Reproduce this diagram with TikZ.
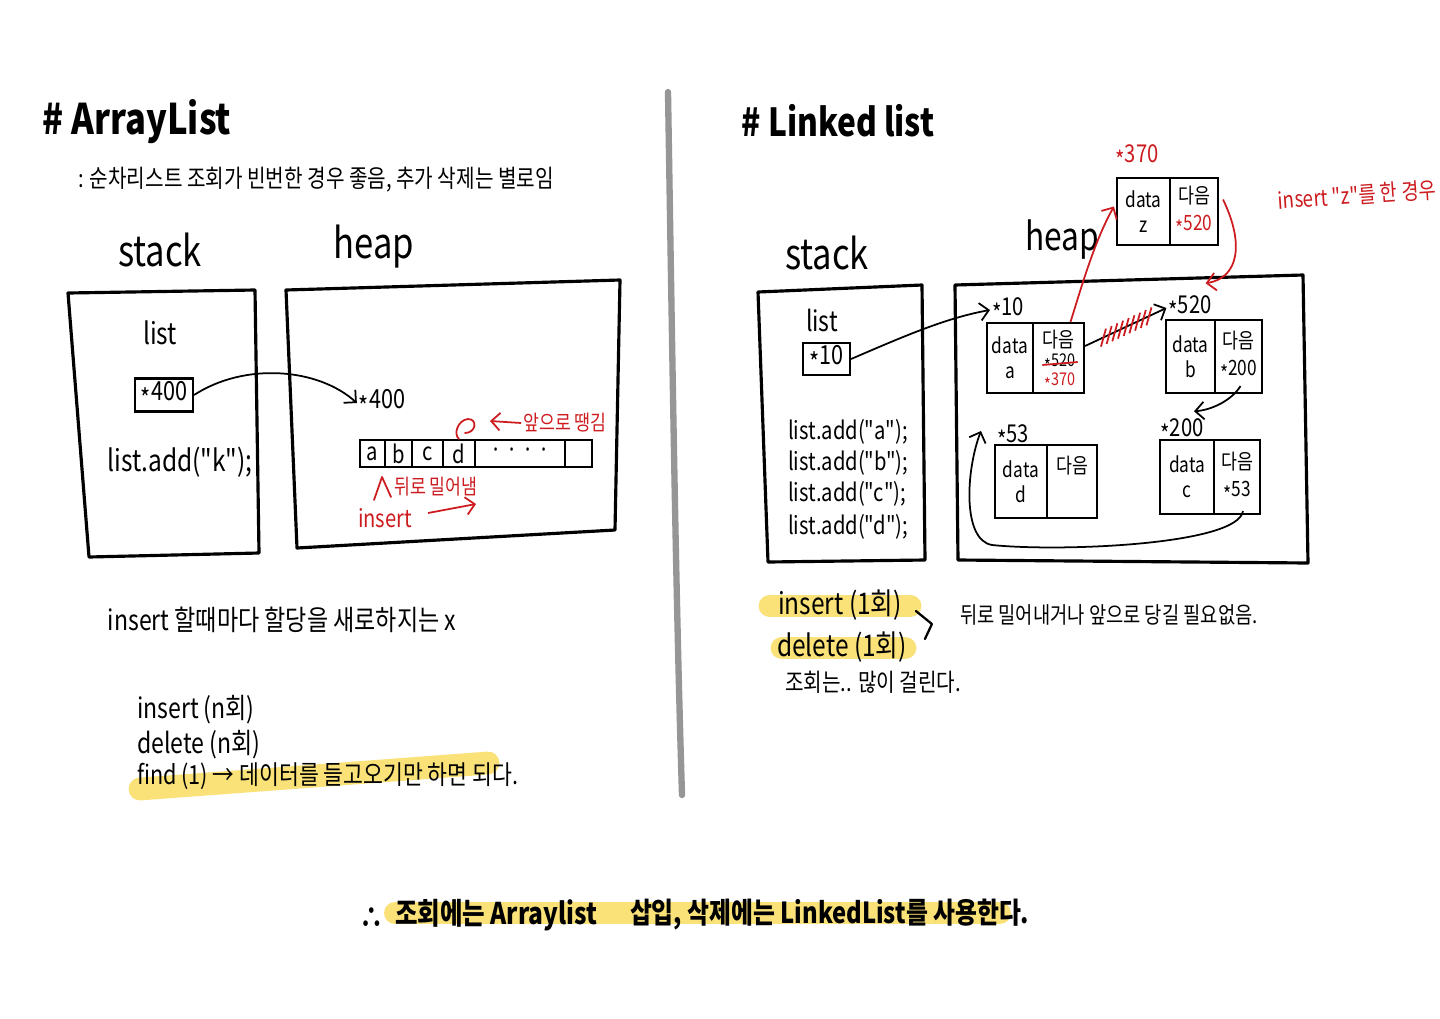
\documentclass[tikz,border=0pt]{standalone}
\usepackage{fontspec}
\setmainfont{Noto Sans CJK KR}[FakeStretch=0.82]
\newfontfamily\krf{Noto Sans CJK KR}[FakeStretch=0.82]
\usetikzlibrary{arrows.meta,calc}
\definecolor{rd}{RGB}{205,28,32}
\definecolor{hly}{RGB}{250,226,120}
\definecolor{dv}{RGB}{150,150,150}
\newcommand\fsz[1]{\krf\fontsize{#1}{\dimexpr #1pt*6/5\relax}\selectfont}
\newcommand\sx{\raisebox{-0.55ex}{*}}
\begin{document}
\begin{tikzpicture}[x=0.02cm,y=-0.02cm,
  box/.style={line width=1.8pt, line join=round},
  cell/.style={draw, line width=1.2pt, inner sep=0pt, align=center, font=\fsz{12}},
  lbl/.style={inner sep=1pt, font=\fsz{13}},
  txt/.style={inner sep=1pt, font=\fsz{16}},
  ttl/.style={inner sep=1pt, font=\bfseries\fsz{24}},
  arr/.style={line width=1pt, -{Straight Barb[length=5pt,width=10pt]}},
  rarr/.style={arr, draw=rd},
  hl/.style={line width=13pt, draw=hly, line cap=round},
  ink/.style={line width=1.3pt, line cap=round, line join=round}]
\fill[white] (0,0) rectangle (1440,1018);
\useasboundingbox (0,0) rectangle (1440,1018);

% ================= LEFT: ArrayList =================
\node[ttl] (t1) at (137,122) {\# ArrayList};
\node[inner sep=1pt, font=\fsz{14}] (s1) at (316,180) {: 순차리스트 조회가 빈번한 경우 좋음, 추가 삭제는 별로임};
\node[inner sep=1pt, font=\fsz{24}] (stk1) at (160,250) {stack};
\node[inner sep=1pt, font=\fsz{24}] (hp1) at (374,247) {heap};

\draw[box] (68,293) -- (255,290) -- (259,553) -- (89,557) -- cycle;
\draw[box] (286,290) -- (620,280) -- (615,530) -- (297,548) -- cycle;

\node[txt, font=\fsz{17}] (l1) at (160,333) {list};
\node[draw, line width=1.2pt, minimum width=1.16cm, minimum height=0.66cm, inner sep=0pt, font=\fsz{15}] (p1) at (164,395) {\sx400};
\node[txt, font=\fsz{17}] (c1) at (180,462) {list.add("k");};

\node[lbl, font=\fsz{15}] (a400) at (382,403) {\sx400};
\draw[arr] (p1.east) .. controls (245,362) and (318,368) .. (a400.west);

% array cells
\begin{scope}[every node/.style={cell, minimum height=0.54cm, font=\fsz{14}}]
\node[minimum width=0.50cm] (arA) at (372.5,453.5) {a};
\node[minimum width=0.54cm] (arB) at (398.5,453.5) {b};
\node[minimum width=0.62cm] (arC) at (427.5,453.5) {c};
\node[minimum width=0.64cm] (arD) at (459,453.5) {d};
\node[minimum width=1.80cm] (arE) at (520,453.5) {· · · ·};
\node[minimum width=0.54cm] (arF) at (578.5,453.5) {};
\end{scope}

% red annotations (array)
\node[lbl, text=rd, font=\fsz{12}] (rtxt1) at (565,423) {앞으로 땡김};
\coordinate (q1) at (490,421);
\draw[rarr] (rtxt1.west) -- (q1);
\draw[ink, draw=rd, line width=1pt] (arD.north) .. controls (453,434) and (458,420) .. (468,419)
  .. controls (478,419) and (476,433) .. (465,433);
\draw[ink, draw=rd, line width=1pt] (374,500) -- (382,477) -- (391,497);
\node[lbl, text=rd, font=\fsz{12}] (rtxt2) at (436,487) {뒤로 밀어냄};
\node[lbl, text=rd, font=\fsz{14}] (rtxt3) at (385,518) {insert};
\coordinate (q3) at (476,504);
\draw[rarr] ($(rtxt3.east)+(14,-5)$) -- (q3);

% notes
\node[txt] (n1) at (282,620) {insert 할때마다 할당을 새로하지는 x};
\draw[hl] (140,789) -- (488,763);
\node[txt, anchor=west] (n2) at (135,710) {insert (n회)};
\node[txt, anchor=west] (n3) at (135,745) {delete (n회)};
\node[txt, anchor=west, font=\fsz{15}] (n4) at (135,776) {find (1) → 데이터를 들고오기만 하면 되다.};

% divider
\draw[line width=3.6pt, draw=dv, line cap=round] (668,92) .. controls (673,400) and (676,600) .. (682,795);

% ================= RIGHT: LinkedList =================
\node[ttl, font=\bfseries\fsz{22}] (t2) at (838,121) {\# Linked list};
\node[inner sep=1pt, font=\fsz{24}] (stk2) at (827,253) {stack};
\node[inner sep=1pt, font=\fsz{22}] (hp2) at (1062,240) {heap};

\draw[box] (758,292) -- (922,285) -- (925,560) -- (768,562) -- cycle;
\draw[box] (955,285) -- (1303,275) -- (1308,563) -- (958,560) -- cycle;

\node[txt, font=\fsz{16}] (l2) at (822,320) {list};
\node[draw, line width=1.2pt, minimum width=0.94cm, minimum height=0.64cm, inner sep=0pt, font=\fsz{15}] (p2) at (826.5,359) {\sx10};
\node[txt, anchor=west, font=\fsz{14}] (c2) at (786,432) {list.add("a");};
\node[txt, anchor=west, font=\fsz{14}] (c3) at (786,463) {list.add("b");};
\node[txt, anchor=west, font=\fsz{14}] (c4) at (786,494) {list.add("c");};
\node[txt, anchor=west, font=\fsz{14}] (c5) at (786,527) {list.add("d");};

% node a
\node[cell, minimum width=0.92cm, minimum height=1.40cm] (aL) at (1010,358) {data\\a};
\node[cell, minimum width=1.02cm, minimum height=1.40cm] (aR) at (1058.5,358) {};
\node[lbl, font=\fsz{12}] (aR1) at (1058,340) {다음};
\node[lbl, font=\fsz{10}, inner sep=0pt] (aR2) at (1060,363) {\sx520};
\node[lbl, font=\fsz{10}, inner sep=0pt, text=rd] (aR3) at (1060,382) {\sx370};
\draw[draw=rd, line width=1pt] ($(aR2.west)+(-2,2)$) -- ($(aR2.east)+(2,-1)$);
\node[lbl, font=\fsz{14}] (la) at (1008,310) {\sx10};

% node b
\node[cell, minimum width=0.98cm, minimum height=1.46cm] (bL) at (1190.5,356.5) {data\\b};
\node[cell, minimum width=0.94cm, minimum height=1.46cm] (bR) at (1238.5,356.5) {다음\\[1pt]\sx200};
\node[lbl, font=\fsz{14}] (lb) at (1190,308) {\sx520};

% node d
\node[cell, minimum width=1.04cm, minimum height=1.46cm] (dL) at (1021,481.5) {data\\d};
\node[cell, minimum width=1.00cm, minimum height=1.46cm] (dR) at (1072,481.5) {};
\node[lbl, font=\fsz{12}] (dR1) at (1072,466) {다음};
\node[lbl, font=\fsz{14}] (ld) at (1013,437) {\sx53};

% node c
\node[cell, minimum width=1.08cm, minimum height=1.48cm] (cL) at (1187,477) {data\\c};
\node[cell, minimum width=0.92cm, minimum height=1.48cm] (cR) at (1237,477) {다음\\[1pt]\sx53};
\node[lbl, font=\fsz{14}] (lc) at (1182,431) {\sx200};

% node z
\node[cell, minimum width=1.06cm, minimum height=1.34cm] (zL) at (1143.5,211.5) {data\\z};
\node[cell, minimum width=0.96cm, minimum height=1.34cm] (zR) at (1194,211.5) {다음\\[1pt]\textcolor{rd}{\sx520}};
\node[lbl, font=\fsz{14}, text=rd] (lz) at (1137,157) {\sx370};

\node[lbl, text=rd, rotate=4] (rn) at (1357,195) {insert "z"를 한 경우};

% connectors
\draw[arr] (p2.east) .. controls (900,338) and (945,318) .. (la.west);
\coordinate (aout) at ($(aR.east)+(0,-12)$);
\draw[arr] (aout) -- (lb.west);
\foreach \t in {0.22,0.29,...,0.80}
  \draw[draw=rd, line width=1pt] ($(aout)!\t!(lb.west)+(-2,9)$) -- ($(aout)!\t!(lb.west)+(3,-9)$);
\draw[rarr] ($(aR.north)+(12,0)$) .. controls (1082,285) and (1095,240) .. ($(zL.west)+(-2,-5)$);
\draw[rarr] ($(zR.east)+(4,-12)$) .. controls (1245,245) and (1238,278) .. ($(lb.north east)+(-8,-10)$);
\draw[arr] ($(bR.south)+(2,-8)$) .. controls (1232,400) and (1212,410) .. ($(lc.north)+(12,-5)$);
\draw[arr] ($(cR.south)+(6,-4)$) .. controls (1238,545) and (1060,552) .. (992,545)
  .. controls (962,540) and (966,470) .. ($(ld.west)+(-14,-6)$);

% right notes
\draw[hl] (770,606) -- (910,606);
\draw[hl] (782,648) -- (905,648);
\node[txt, font=\fsz{17}] (i1) at (840,605) {insert (1회)};
\node[txt, font=\fsz{17}] (d1) at (842,647) {delete (1회)};
\draw[ink] ($(i1.east)+(12,6)$) -- ($(i1.east)+(28,19)$) -- ($(d1.east)+(16,-8)$);
\node[txt, anchor=west, font=\fsz{13}] (r1) at (958,615) {뒤로 밀어내거나 앞으로 당길 필요없음.};
\node[txt, anchor=west, font=\fsz{14}] (r2) at (783,682) {조회는.. 많이 걸린다.};

% ================= BOTTOM =================
\draw[hl, line width=12.5pt] (395,913) -- (1000,913);
\node[inner sep=1pt, font=\bfseries\fsz{17}] (b0) at (372,918) {∴};
\node[inner sep=1pt, anchor=west, font=\bfseries\fsz{17}] (b1) at (393,915) {조회에는 Arraylist};
\node[inner sep=1pt, anchor=west, font=\bfseries\fsz{16.5}] (b2) at (628,915) {삽입, 삭제에는 LinkedList를 사용한다.};
\end{tikzpicture}
\end{document}
